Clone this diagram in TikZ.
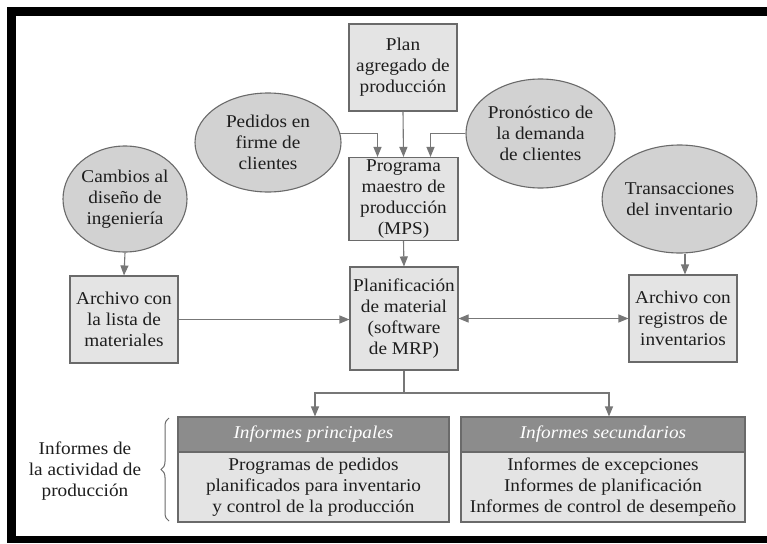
\documentclass[tikz,border=0pt]{standalone}
\usepackage{fontspec}
\setmainfont{Liberation Serif}[FakeStretch=1.07]
\usetikzlibrary{arrows.meta,shapes.geometric,decorations.pathreplacing,calc}

\definecolor{boxfill}{HTML}{E4E4E4}
\definecolor{ellfill}{HTML}{D2D2D2}
\definecolor{edgec}{HTML}{6A6A6A}
\definecolor{linec}{HTML}{777777}
\definecolor{hdrc}{HTML}{8C8C8C}
\definecolor{txtc}{HTML}{1E1E1E}

\begin{document}
\begin{tikzpicture}[x=1pt,y=-1pt,
  font=\fontsize{18}{21}\selectfont,
  base/.style={draw=edgec,line width=1.1pt,align=center,inner sep=0pt,text=txtc},
  rbox/.style={base,rectangle,fill=boxfill},
  oval/.style={base,ellipse,fill=ellfill},
  hbox/.style={base,rectangle,fill=hdrc,text=white,font=\fontsize{18}{21}\selectfont\itshape},
  conn/.style={draw=linec,line width=1.1pt},
  arr/.style={conn,-{Triangle[length=10pt,width=8pt]}},
  darr/.style={conn,{Triangle[length=10pt,width=8pt]}-{Triangle[length=10pt,width=8pt]}},
  bracec/.style={draw=edgec,line width=1pt,decorate,decoration={brace,amplitude=8pt}},
  ]
\useasboundingbox (0,0) rectangle (767,543);
\fill[white] (0,0) rectangle (767,543);
\fill[black] (7,7) rectangle (767,16);
\fill[black] (7,7) rectangle (16,543);
\fill[black] (7,536) rectangle (767,543);

% boxes
\node[rbox,minimum width=108pt,minimum height=87pt] (plan) at (403,67.5) {Plan\\agregado de\\producción};
\node[rbox,minimum width=109pt,minimum height=83pt] (mps) at (403.5,199) {Programa\\maestro de\\producción\\(MPS)};
\node[rbox,minimum width=108pt,minimum height=103pt] (planif) at (404,318.5) {Planificación\\de material\\(software\\de MRP)};
\node[rbox,minimum width=108pt,minimum height=87pt] (archL) at (124,319.5) {Archivo con\\la lista de\\materiales};
\node[rbox,minimum width=108pt,minimum height=87pt] (archR) at (683,318.5) {Archivo con\\registros de\\inventarios};

% ellipses
\node[oval,minimum width=146pt,minimum height=99pt] (pedidos) at (268,142.5) {Pedidos en\\firme de\\clientes};
\node[oval,minimum width=145pt,minimum height=109pt] (pron) at (540.5,133.5) {Pronóstico de\\la demanda\\de clientes};
\node[oval,minimum width=124pt,minimum height=106pt] (cambios) at (125,199) {Cambios al\\diseño de\\ingeniería};
\node[oval,minimum width=117pt,minimum height=108pt] (trans) at (679.5,199) {Transacciones\\del inventario};

% tables
\node[hbox,minimum width=271pt,minimum height=35pt] (ph) at (313.5,434.5) {Informes principales};
\node[rbox,minimum width=271pt,minimum height=70pt] (pb) at (313.5,487) {Programas de pedidos\\planificados para inventario\\y control de la producción};
\node[hbox,minimum width=284pt,minimum height=35pt] (sh) at (603,434.5) {Informes secundarios};
\node[rbox,minimum width=284pt,minimum height=70pt] (sb) at (603,487) {Informes de excepciones\\Informes de planificación\\Informes de control de desempeño};

\node[align=center,text=txtc,inner sep=0pt] (lbl) at (85,471) {Informes de\\la actividad de\\producción};

% connectors
\draw[arr] (plan.south) -- (mps.north);
\draw[arr] (pedidos.7.6) -| ($(mps.north)+(-26,0)$);
\draw[arr] (pron.west) -| ($(mps.north)+(27,0)$);
\draw[arr] (mps.south) -- (planif.north);
\draw[arr] (cambios.south) -- (archL.north);
\draw[arr] ($(trans.south)+(5.5,0)$) -- ($(archR.north)+(2,0)$);
\draw[arr] (archL.east) -- (archL.east -| planif.west);
\draw[darr] (planif.east) -- (archR.west);
\coordinate (jn) at (404,393);
\draw[conn] (planif.south) -- (jn);
\draw[arr] (jn) -| ($(ph.north)+(1.5,0)$);
\draw[arr] (jn) -| ($(sh.north)+(6,0)$);

% brace
\coordinate (bb) at (169,521);
\coordinate (bt) at (169,418);
\draw[bracec] (bb) -- (bt);
\end{tikzpicture}
\end{document}
